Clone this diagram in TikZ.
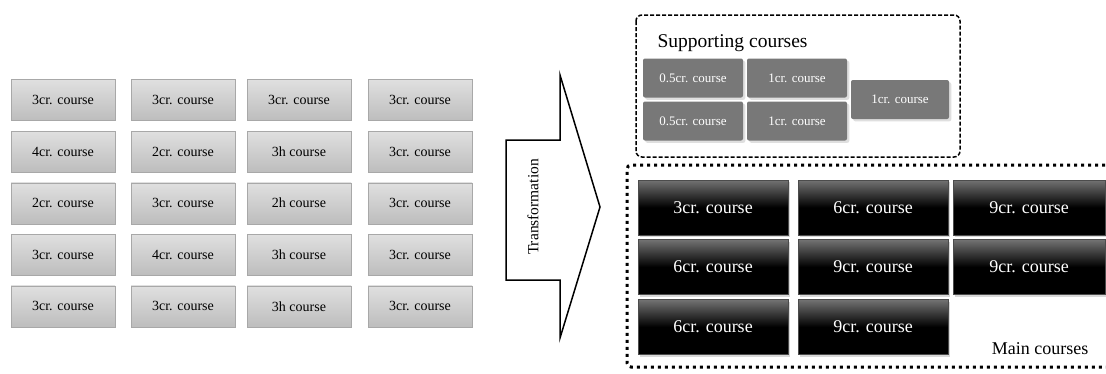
\documentclass[tikz,border=0pt]{standalone}
\usepackage{fontspec}
\setmainfont{Liberation Serif}
\usepackage{tikz}
\usepackage{xcolor}
\usetikzlibrary{positioning,shadows}

\definecolor{gridfill}{HTML}{D2D2D2}
\definecolor{gridedge}{HTML}{A8A8A8}
\definecolor{supfill}{HTML}{787878}

\tikzset{
  gridbox/.style={rectangle,draw=gridedge,top color=gridfill!70!white,bottom color=gridfill!90!black,
    minimum width=104pt,minimum height=41pt,inner sep=0pt,font=\fontsize{14}{16}\selectfont},
  supbox/.style={rectangle,rounded corners=2pt,fill=supfill,text=white,drop shadow={opacity=0.25},
    minimum width=100pt,minimum height=39pt,inner sep=0pt,font=\fontsize{13}{15}\selectfont},
  mainbox/.style={rectangle,top color=black!55,bottom color=black,middle color=black,draw=black!70,text=white,
    drop shadow={opacity=0.3},minimum width=150pt,minimum height=55pt,inner sep=0pt,font=\fontsize{18}{20}\selectfont},
}

\begin{document}
\begin{tikzpicture}[x=1pt,y=1pt]
    \clip (0,0) rectangle (1106,-373);
    \fill[white] (0,0) rectangle (1106,-373);

    % Original course grid
    \foreach \r/\la/\lb/\lc/\ld in {1/3cr./3cr./3cr./3cr.,2/4cr./2cr./3h/3cr.,3/2cr./3cr./2h/3cr.,4/3cr./4cr./3h/3cr.,5/3cr./3cr./3h/3cr.}{
        \node[gridbox] (g\r-1) at (63,{-100-51.6*(\r-1)}) {\la{} course};
        \node[gridbox] (g\r-2) at (183,{-100-51.6*(\r-1)}) {\lb{} course};
        \node[gridbox] (g\r-3) at (299,{-100-51.6*(\r-1)}) {\lc{} course};
        \node[gridbox] (g\r-4) at (420,{-100-51.6*(\r-1)}) {\ld{} course};
    }

    % Transformation arrow
    \draw[line width=1.5pt,line join=miter] (506,-140) -- (560,-140) -- (560,-75) -- (600,-207)
        -- (560,-338) -- (560,-280) -- (506,-280) -- cycle;
    \node[rotate=90,font=\fontsize{15.5}{17}\selectfont] (trans) at (533,-207) {Transformation};

    % Supporting courses
    \draw[line width=1.5pt,dash pattern=on 4pt off 2pt,rounded corners=6pt] (636,-15) rectangle (960,-157);
    \node[anchor=west,font=\fontsize{19.5}{21}\selectfont] (suplab) at (654,-43) {Supporting courses};
    \node[supbox] (s1) at (693,-78) {0.5cr. course};
    \node[supbox] (s2) at (797,-78) {1cr. course};
    \node[supbox] (s3) at (693,-121) {0.5cr. course};
    \node[supbox] (s4) at (797,-121) {1cr. course};
    \node[supbox,minimum width=98pt] (s5) at (900,-99.5) {1cr. course};

    % Main courses
    \draw[line width=3pt,dash pattern=on 3pt off 4pt,rounded corners=4pt]
        (1112,-165) -- (627,-165) -- (627,-367) -- (1112,-367);
    \node[mainbox] (m1-1) at (713,-207.5) {3cr. course};
    \node[mainbox] (m1-2) at (873,-207.5) {6cr. course};
    \node[mainbox,minimum width=152pt] (m1-3) at (1029,-207.5) {9cr. course};
    \node[mainbox] (m2-1) at (713,-267) {6cr. course};
    \node[mainbox] (m2-2) at (873,-267) {9cr. course};
    \node[mainbox,minimum width=152pt] (m2-3) at (1029,-267) {9cr. course};
    \node[mainbox] (m3-1) at (713,-327) {6cr. course};
    \node[mainbox] (m3-2) at (873,-327) {9cr. course};
    \node[font=\fontsize{18}{20}\selectfont] (mainlab) at (1040,-349) {Main courses};
\end{tikzpicture}
\end{document}
